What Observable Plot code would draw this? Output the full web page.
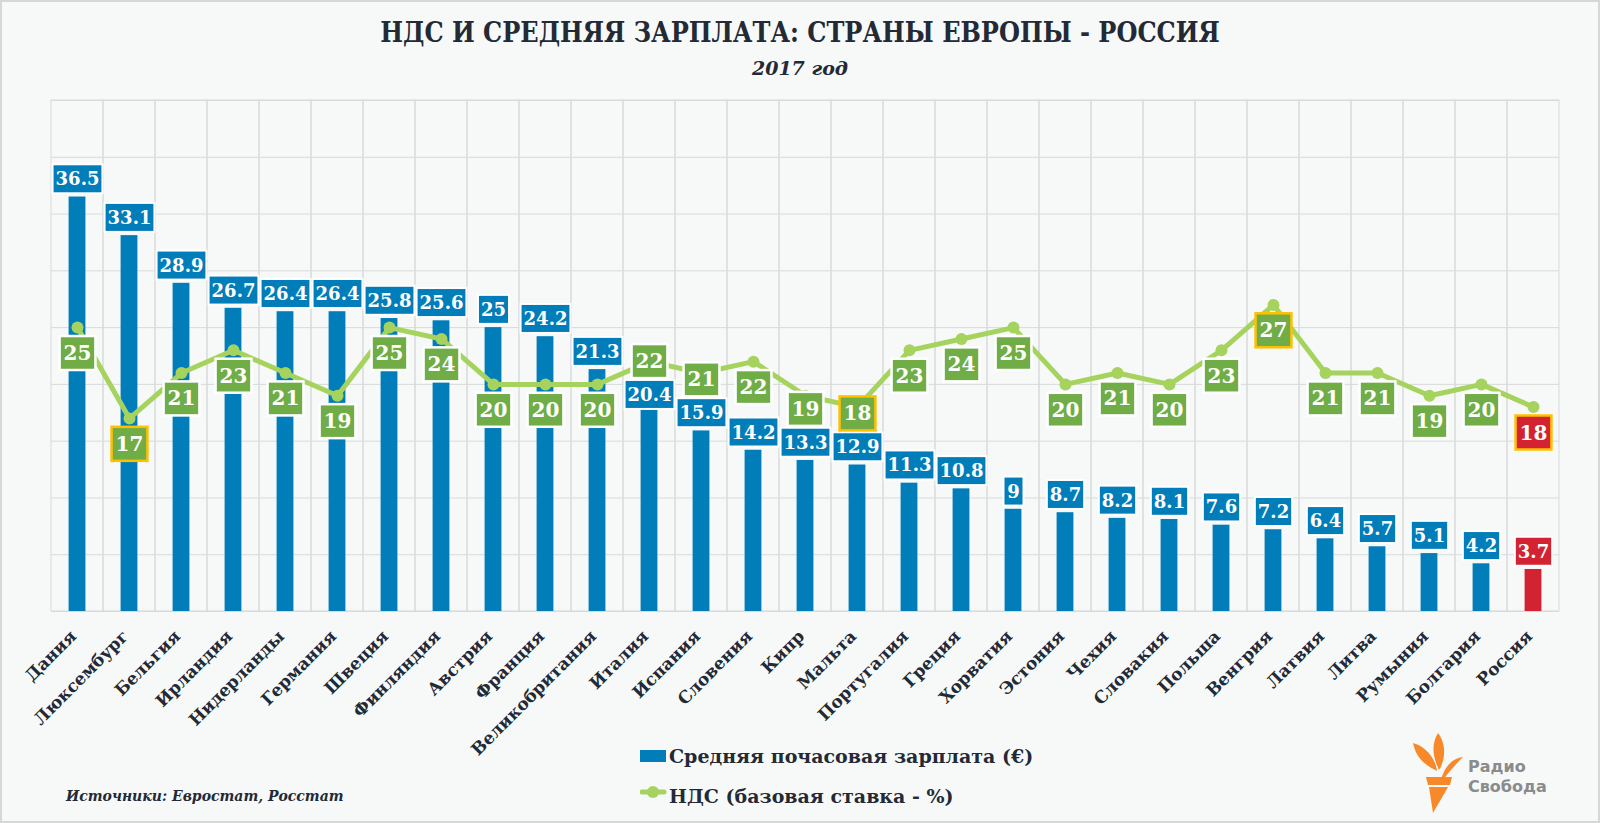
<!DOCTYPE html>
<html>
<head>
<meta charset="utf-8">
<script src="https://cdn.jsdelivr.net/npm/d3@7"></script>
<script src="https://cdn.jsdelivr.net/npm/@observablehq/plot@0.6"></script>
<style>
  body { margin: 0; background: #F6F9F8; }
  #wrap { position: relative; width: 1600px; height: 823px; background: #F6F9F8; overflow: hidden;
          font-family: "DejaVu Serif", serif; color: #232A36; }
  #chart { position: absolute; left: 0; top: 0; }
  #frame { position: absolute; left: 0; top: 0; width: 1600px; height: 823px; box-sizing: border-box;
           border: 2px solid #D6D8D8; pointer-events: none; }
  .abs { position: absolute; white-space: nowrap; }
  #title { left: 0; width: 1600px; text-align: center; top: 19px; font-size: 28px; line-height: 28px; font-weight: bold;
           transform: scaleX(0.86); transform-origin: 800px 0; }
  #subtitle { left: 0; width: 1600px; text-align: center; top: 59px; font-size: 19px; line-height: 19px; font-weight: bold; font-style: italic; }
  .legtext { font-size: 19px; line-height: 19px; font-weight: bold; left: 669px; }
  #caption { left: 66px; top: 789px; font-size: 14px; line-height: 14px; font-weight: bold; font-style: italic; }
  .logotext { font-family: "DejaVu Sans", sans-serif; font-weight: bold; font-size: 16px; line-height: 16px; color: #8A8B8C; left: 1468px; }
</style>
</head>
<body>
<div id="wrap">
  <div id="chart"></div>
  <div id="title" class="abs">НДС И СРЕДНЯЯ ЗАРПЛАТА: СТРАНЫ ЕВРОПЫ - РОССИЯ</div>
  <div id="subtitle" class="abs">2017 год</div>
  <svg class="abs" style="left:640px;top:744px" width="28" height="56">
    <rect x="0" y="6" width="26" height="12" fill="#017DBA"></rect>
    <line x1="2" y1="48" x2="24" y2="48" stroke="#A5D35E" stroke-width="5" stroke-linecap="round"></line>
    <circle cx="13" cy="48" r="6" fill="#A5D35E"></circle>
  </svg>
  <div id="leg1" class="abs legtext" style="top:747px">Средняя почасовая зарплата (€)</div>
  <div id="leg2" class="abs legtext" style="top:787px">НДС (базовая ставка - %)</div>
  <div id="caption" class="abs">Источники: Евростат, Росстат</div>
  <svg class="abs" style="left:1408px;top:728px" width="60" height="90">
    <g fill="#F7892A">
      <path d="M5,15 C14,17 27,27 29,43 C22,39 9,34 5,15 Z"></path>
      <path d="M30,5 C38,15 38,31 31,42 C26,31 22,18 30,5 Z"></path>
      <path d="M55,29 C43,30 35,41 32,56 C39,46 47,37 55,29 Z"></path>
      <path d="M18,49 L44,49 L42,57 L20,57 Z"></path>
      <path d="M21,59 L40,59 L25,85 Z"></path>
    </g>
  </svg>
  <div class="abs logotext" style="top:759px">Радио</div>
  <div class="abs logotext" style="top:779px">Свобода</div>
  <div id="frame"></div>
</div>
<script>
// ---- data ----
const countries = ["Дания","Люксембург","Бельгия","Ирландия","Нидерланды","Германия","Швеция","Финляндия","Австрия","Франция","Великобритания","Италия","Испания","Словения","Кипр","Мальта","Португалия","Греция","Хорватия","Эстония","Чехия","Словакия","Польша","Венгрия","Латвия","Литва","Румыния","Болгария","Россия"];
const wages = [36.5,33.1,28.9,26.7,26.4,26.4,25.8,25.6,25,24.2,21.3,20.4,15.9,14.2,13.3,12.9,11.3,10.8,9,8.7,8.2,8.1,7.6,7.2,6.4,5.7,5.1,4.2,3.7];
const vatRates = [25,17,21,23,21,19,25,24,20,20,20,22,21,22,19,18,23,24,25,20,21,20,23,27,21,21,19,20,18];
const yTicks = [0,5,10,15,20,25,30,35,40,45];
const focusCountry = "Россия";
const vatHighlighted = ["Люксембург","Мальта","Венгрия","Россия"];

// ---- layout / style ----
const W = 1600, H = 823, mT = 100, mB = 212, mL = 51, mR = 41;
const yMax = 45;
const BLUE = "#017DBA", RED = "#D32232", BOXGREEN = "#70AD47", LINEGREEN = "#A5D35E", ORANGE = "#FFC000", GRID = "#D9D9D9", INK = "#232A36";
const BAR_TEXT = "#fffffe", VAT_TEXT = "#fffffd"; // near-white, also used to find the label groups
const pxPerUnit = (H - mT - mB) / yMax;
const BAR_BOX_H = 29, VAT_BOX_H = 34, BAR_GAP = 3, VAT_OFFSET = 26, BOX_GAP = 2;

// label placement (pixels above baseline, converted back to data units)
const data = countries.map((c, i) => {
  const p = vatRates[i] * pxPerUnit;
  let b = wages[i] * pxPerUnit + BAR_GAP + BAR_BOX_H / 2;
  let v = p - VAT_OFFSET;
  const half = (BAR_BOX_H + VAT_BOX_H) / 2;
  if (Math.abs(v - b) < half) {
    v = b + half + BOX_GAP;
    if (v > p) { v = p; b = p - half - BOX_GAP; }
  }
  return { country: c, wage: wages[i], vat: vatRates[i], barLabelY: b / pxPerUnit, vatLabelY: v / pxPerUnit };
});

const chart = Plot.plot({
  width: W, height: H, marginTop: mT, marginBottom: mB, marginLeft: mL, marginRight: mR,
  style: { background: "transparent", fontFamily: "DejaVu Serif", overflow: "visible" },
  x: { domain: countries, padding: 0 },
  y: { domain: [0, yMax], axis: null },
  marks: [
    Plot.ruleY(yTicks, { stroke: GRID, strokeWidth: 1 }),
    Plot.cell(data, { x: "country", fill: "none", stroke: GRID, strokeWidth: 1 }),
    Plot.barY(data, { x: "country", y: "wage", fill: d => d.country === focusCountry ? RED : BLUE, insetLeft: 17.6, insetRight: 17.6 }),
    Plot.line(data, { x: "country", y: "vat", stroke: LINEGREEN, strokeWidth: 5, strokeLinejoin: "round" }),
    Plot.dot(data, { x: "country", y: "vat", r: 6, fill: LINEGREEN }),
    Plot.text(data, { x: "country", y: "barLabelY", text: d => String(d.wage), fill: BAR_TEXT, fontSize: 18, fontWeight: "bold" }),
    Plot.text(data, { x: "country", y: "vatLabelY", text: d => String(d.vat), fill: VAT_TEXT, fontSize: 20, fontWeight: "bold" }),
    Plot.axisX({ tickRotate: -45, tickSize: 0, tickPadding: 22, dx: -4, fontSize: 17, fontWeight: "bold", fill: INK, label: null })
  ]
});
document.getElementById("chart").appendChild(chart);

// boxes behind the value labels
const NS = "http://www.w3.org/2000/svg";
function addBoxes(textFill, padX, h, minW, fillOf, strokeOf, strokeW) {
  const texts = Array.from(chart.querySelectorAll("text")).filter(t => {
    let el = t;
    while (el && el !== chart) {
      const f = el.getAttribute && el.getAttribute("fill");
      if (f) return f.toLowerCase() === textFill;
      el = el.parentNode;
    }
    return false;
  });
  texts.forEach((t, i) => {
    const d = data[i];
    let bb;
    try { bb = t.getBBox(); } catch (e) { return; }
    const w = Math.max(minW, bb.width + 2 * padX);
    const cx = bb.x + bb.width / 2, cy = bb.y + bb.height / 2;
    const r = document.createElementNS(NS, "rect");
    r.setAttribute("x", cx - w / 2);
    r.setAttribute("y", cy - h / 2);
    r.setAttribute("width", w);
    r.setAttribute("height", h);
    r.setAttribute("fill", fillOf(d));
    r.setAttribute("stroke", strokeOf(d));
    r.setAttribute("stroke-width", strokeW);
    const tr = t.getAttribute("transform");
    if (tr) r.setAttribute("transform", tr);
    t.parentNode.insertBefore(r, t);
  });
}
addBoxes(BAR_TEXT, 3, BAR_BOX_H, 20, d => d.country === focusCountry ? RED : BLUE, () => "white", 2);
addBoxes(VAT_TEXT, 4, VAT_BOX_H, 30, d => d.country === focusCountry ? RED : BOXGREEN,
  d => vatHighlighted.includes(d.country) ? ORANGE : "white", 2.5);
</script>
</body>
</html>
